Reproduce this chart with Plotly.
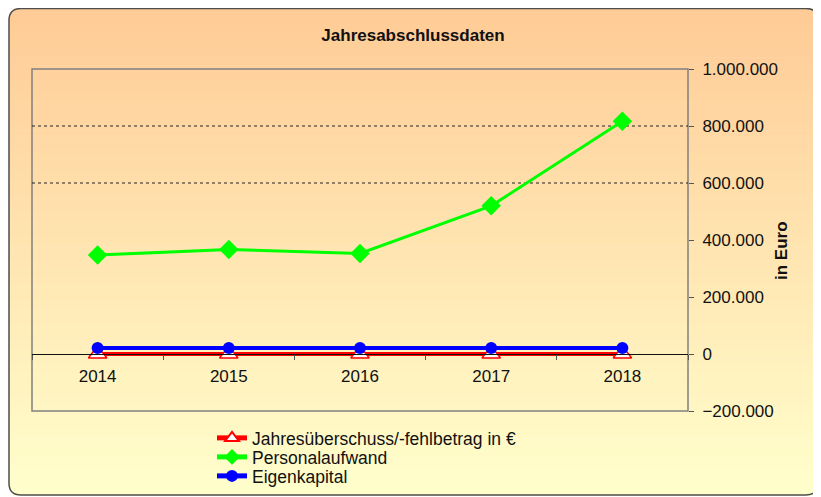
import plotly.graph_objects as go

# Daten
jahre = ["2014", "2015", "2016", "2017", "2018"]
jahresergebnis = [0, 0, 0, 0, 0]
personalaufwand = [347000, 367000, 353000, 520000, 817000]
eigenkapital = [21000, 21000, 21000, 21000, 21000]
gitterlinien = [600000, 800000]

# die Seite hat 8px Rand, darum ist die Grafik entsprechend kleiner
OFF = 8
W, H = 821 - OFF, 497 - OFF
# Zeichenfläche in Bildschirm-Pixeln: x 32..688, y 69..411
PX0, PX1, PY0, PY1 = 32, 688, 69, 411
L, R, T, B = PX0 - OFF, W - (PX1 - OFF), PY0 - OFF, H - (PY1 - OFF)


def px_x(px):
    return (px - PX0) / (PX1 - PX0)


def px_y(py):
    return (PY1 - py) / (PY1 - PY0)


fig = go.Figure()

fig.add_trace(go.Scatter(
    x=jahre, y=jahresergebnis, name="Jahresüberschuss/-fehlbetrag in €",
    mode="lines+markers", legend="legend",
    line=dict(color="#FF0000", width=4),
    marker=dict(symbol="triangle-up", size=16, color="white",
                line=dict(color="#FF0000", width=1.5)),
))
fig.add_trace(go.Scatter(
    x=jahre, y=personalaufwand, name="Personalaufwand",
    mode="lines+markers", legend="legend2",
    line=dict(color="#00FF00", width=3),
    marker=dict(symbol="diamond", size=15, color="#00FF00"),
))
fig.add_trace(go.Scatter(
    x=jahre, y=eigenkapital, name="Eigenkapital",
    mode="lines+markers", legend="legend3",
    line=dict(color="#0000FF", width=4),
    marker=dict(symbol="circle", size=12, color="#0000FF"),
))

# Hintergrund: vertikaler Verlauf in einem abgerundeten Rahmen
bx0, bx1, by0, by1 = 9, 818, 8.5, 495
top_rgb = (255, 203, 150)
bot_rgb = (255, 255, 204)
n = 60
shapes = []
for i in range(n):
    t = i / (n - 1)
    c = tuple(round(a + (b - a) * t) for a, b in zip(top_rgb, bot_rgb))
    ya = by0 + (by1 - by0) * i / n
    yb = by0 + (by1 - by0) * (i + 1) / n + 0.6
    shapes.append(dict(
        type="rect", xref="paper", yref="paper", layer="below",
        x0=px_x(bx0), x1=px_x(bx1), y0=px_y(ya), y1=px_y(yb),
        fillcolor="rgb(%d,%d,%d)" % c, line=dict(width=0),
    ))

r = 12
corners = [
    (bx0, by0, 1, 1), (bx1, by0, -1, 1), (bx0, by1, 1, -1), (bx1, by1, -1, -1),
]
for cx, cy, sx, sy in corners:
    path = "M %f,%f L %f,%f Q %f,%f %f,%f Z" % (
        px_x(cx), px_y(cy), px_x(cx + sx * r), px_y(cy),
        px_x(cx), px_y(cy), px_x(cx), px_y(cy + sy * r))
    shapes.append(dict(type="path", xref="paper", yref="paper", layer="below",
                       path=path, fillcolor="white", line=dict(width=0)))

frame = ("M %f,%f L %f,%f Q %f,%f %f,%f L %f,%f Q %f,%f %f,%f "
         "L %f,%f Q %f,%f %f,%f L %f,%f Q %f,%f %f,%f Z") % (
    px_x(bx0 + r), px_y(by0), px_x(bx1 - r), px_y(by0),
    px_x(bx1), px_y(by0), px_x(bx1), px_y(by0 + r),
    px_x(bx1), px_y(by1 - r),
    px_x(bx1), px_y(by1), px_x(bx1 - r), px_y(by1),
    px_x(bx0 + r), px_y(by1),
    px_x(bx0), px_y(by1), px_x(bx0), px_y(by1 - r),
    px_x(bx0), px_y(by0 + r),
    px_x(bx0), px_y(by0), px_x(bx0 + r), px_y(by0))
shapes.append(dict(type="path", xref="paper", yref="paper", layer="below",
                   path=frame, line=dict(color="#4d4d4d", width=1.5)))

# Rahmen der Zeichenfläche
shapes.append(dict(type="rect", xref="paper", yref="paper", layer="below",
                   x0=0, x1=1, y0=0, y1=1, line=dict(color="#808080", width=1.5)))

for g in gitterlinien:
    shapes.append(dict(type="line", xref="paper", yref="y", layer="below",
                       x0=0, x1=1, y0=g, y1=g,
                       line=dict(color="#222222", width=1, dash="dot")))


def legende(row_y):
    return dict(x=px_x(212), xanchor="left", y=px_y(row_y), yanchor="middle",
                bgcolor="rgba(0,0,0,0)", font=dict(size=17.5),
                itemsizing="constant")


fig.update_layout(
    width=W, height=H,
    margin=dict(l=L, r=R, t=T, b=B, autoexpand=False),
    paper_bgcolor="white",
    plot_bgcolor="rgba(0,0,0,0)",
    separators=",.",
    font=dict(family="Liberation Sans, Arial, sans-serif", size=17, color="#111111"),
    title=dict(text="<b>Jahresabschlussdaten</b>", xref="paper", x=px_x(413),
               xanchor="center", y=1 - (35 - OFF) / H, yanchor="middle",
               font=dict(size=17)),
    shapes=shapes,
    showlegend=True,
    legend=legende(438),
    legend2=legende(457),
    legend3=legende(476),
    xaxis=dict(
        type="category", range=[-0.5, 4.5],
        anchor="free", position=px_y(354.3),
        showline=True, linecolor="#111111", linewidth=1,
        ticks="outside", tickson="boundaries", ticklen=5, tickcolor="#555555",
        ticklabelstandoff=6,
        showgrid=False, zeroline=False, fixedrange=True,
    ),
    yaxis=dict(
        side="right", range=[-200000, 1000000], dtick=200000,
        tickformat=",d", showgrid=False, zeroline=False,
        ticks="outside", ticklen=5, tickcolor="#555555",
        ticklabelstandoff=5,
        showline=False, fixedrange=True,
    ),
    annotations=[dict(text="<b>in Euro</b>", xref="paper", yref="paper",
                      x=px_x(781), y=px_y(251), xanchor="center", yanchor="middle",
                      textangle=-90, showarrow=False, font=dict(size=17))],
)

fig.write_html("out.html")
